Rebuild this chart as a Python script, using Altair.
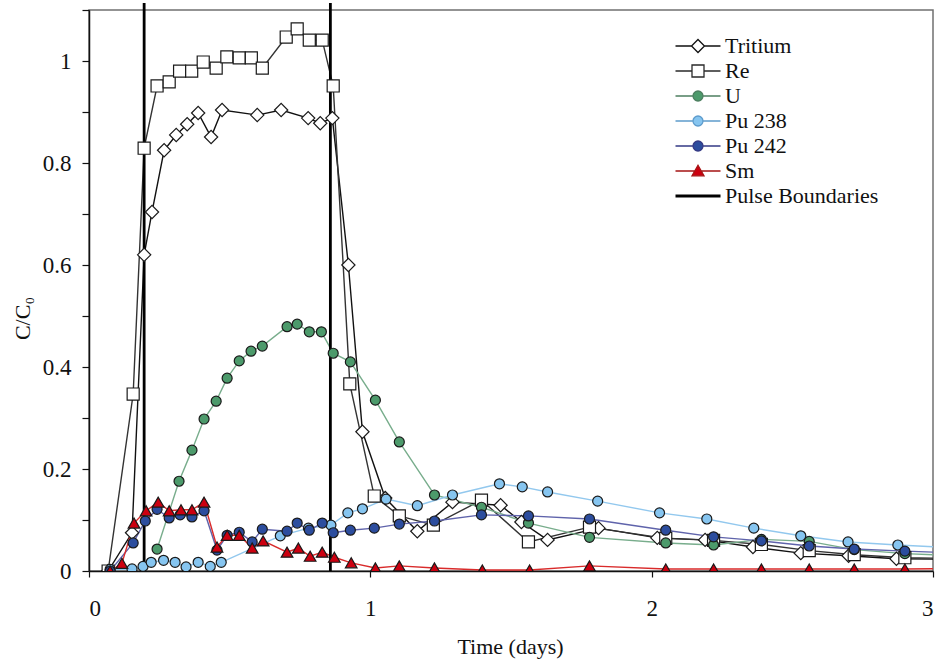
import altair as alt
import pandas as pd

# ---------------- data ----------------
SERIES = ["Tritium", "Re", "U", "Pu 238", "Pu 242", "Sm"]

tritium_t = [0.068, 0.153, 0.196, 0.224, 0.267, 0.31, 0.349, 0.388, 0.434, 0.473, 0.598, 0.683,
             0.779, 0.822, 0.865, 0.922, 0.972, 1.053, 1.167, 1.292, 1.463, 1.537, 1.63, 1.811,
             2.02, 2.19, 2.36, 2.53, 2.70, 2.87, 3.2]
tritium_v = [0.0, 0.075, 0.62, 0.704, 0.825, 0.855, 0.876, 0.898, 0.851, 0.904, 0.894, 0.904,
             0.888, 0.878, 0.888, 0.60, 0.273, 0.143, 0.078, 0.135, 0.129, 0.096, 0.061, 0.084,
             0.065, 0.061, 0.047, 0.035, 0.03, 0.024, 0.022]

re_t = [0.068, 0.157, 0.196, 0.242, 0.285, 0.322, 0.365, 0.406, 0.452, 0.49, 0.534, 0.577, 0.616,
        0.701, 0.74, 0.783, 0.829, 0.868, 0.927, 1.014, 1.103, 1.224, 1.395, 1.562, 1.779,
        2.05, 2.22, 2.39, 2.56, 2.72, 2.90, 3.2]
re_v = [0.0, 0.347, 0.829, 0.951, 0.959, 0.98, 0.98, 0.998, 0.986, 1.008, 1.006, 1.006, 0.986,
        1.047, 1.063, 1.041, 1.041, 0.951, 0.367, 0.147, 0.108, 0.09, 0.139, 0.057, 0.086,
        0.064, 0.06, 0.052, 0.04, 0.032, 0.026, 0.024]

u_t = [0.242, 0.32, 0.366, 0.409, 0.452, 0.491, 0.534, 0.576, 0.616, 0.704, 0.74, 0.783, 0.826,
       0.868, 0.929, 1.018, 1.103, 1.228, 1.395, 1.562, 1.779, 2.05, 2.22, 2.39, 2.56, 2.72,
       2.90, 3.2]
u_v = [0.043, 0.176, 0.237, 0.298, 0.333, 0.378, 0.412, 0.431, 0.441, 0.479, 0.484, 0.469, 0.469,
       0.427, 0.41, 0.335, 0.253, 0.149, 0.125, 0.094, 0.066, 0.055, 0.051, 0.062, 0.058, 0.042,
       0.034, 0.028]

pu238_t = [0.075, 0.153, 0.192, 0.221, 0.265, 0.306, 0.345, 0.388, 0.431, 0.47, 0.68, 0.78,
           0.86, 0.92, 0.972, 1.056, 1.167, 1.292, 1.459, 1.54, 1.63, 1.808, 2.028, 2.196,
           2.363, 2.53, 2.698, 2.875, 3.2]
pu238_v = [0.003, 0.004, 0.009, 0.017, 0.021, 0.017, 0.008, 0.017, 0.009, 0.017, 0.069, 0.084,
           0.09, 0.114, 0.122, 0.141, 0.128, 0.149, 0.171, 0.165, 0.155, 0.137, 0.114, 0.102,
           0.084, 0.069, 0.057, 0.051, 0.042]

pu242_t = [0.075, 0.157, 0.2, 0.242, 0.285, 0.324, 0.366, 0.409, 0.455, 0.491, 0.534, 0.58,
           0.616, 0.704, 0.74, 0.783, 0.829, 0.868, 0.929, 1.014, 1.103, 1.228, 1.395, 1.562,
           1.779, 2.05, 2.22, 2.39, 2.56, 2.72, 2.90, 3.2]
pu242_v = [0.0, 0.055, 0.098, 0.121, 0.104, 0.11, 0.106, 0.118, 0.041, 0.07, 0.076, 0.057,
           0.082, 0.078, 0.094, 0.08, 0.094, 0.075, 0.08, 0.084, 0.092, 0.098, 0.11, 0.108,
           0.102, 0.08, 0.067, 0.059, 0.049, 0.043, 0.039, 0.033]

sm_t = [0.075, 0.117, 0.16, 0.203, 0.246, 0.285, 0.327, 0.366, 0.409, 0.455, 0.491, 0.534, 0.58,
        0.619, 0.704, 0.744, 0.786, 0.829, 0.872, 0.932, 1.018, 1.103, 1.228, 1.398, 1.566,
        1.779, 2.05, 2.22, 2.39, 2.56, 2.72, 2.90, 3.2]
sm_v = [0.0, 0.015, 0.094, 0.118, 0.135, 0.118, 0.12, 0.12, 0.135, 0.047, 0.07, 0.07, 0.045,
        0.059, 0.037, 0.045, 0.029, 0.037, 0.027, 0.016, 0.006, 0.01, 0.006, 0.002, 0.002,
        0.01, 0.004, 0.004, 0.004, 0.004, 0.004, 0.004, 0.005]

PULSE_LABEL = "Pulse Boundaries"
pulse_t = [0.196, 0.858]

# axis ticks / labels
X_TICKS = [0, 1, 2, 3]
Y_TICKS = [0, 0.1, 0.2, 0.3, 0.4, 0.5, 0.6, 0.7, 0.8, 0.9, 1.0, 1.1]
Y_LABELED = ["0", "0.2", "0.4", "0.6", "0.8", "1"]

# ---------------- styling ----------------
LEGEND_ORDER = SERIES + [PULSE_LABEL]
LINE_COLORS = ["#111111", "#333333", "#78ad8c", "#92c8ee", "#5f63ab", "#d92b2b"]
MARK_FILLS = ["#ffffff", "#ffffff", "#4c9a6b", "#86c5f0", "#2c4d9e", "#cc0010"]
MARK_SHAPES = ["diamond", "square", "circle", "circle", "circle", "triangle-up"]
MARK_SIZES = [175, 145, 100, 100, 100, 135]
FONT = "Liberation Serif"

# legend symbols: line with marker (custom paths in unit coords)
LEG_PATHS = [
    "M-3.75,0H-1.08M1.08,0H3.75M0,-1.08L1.08,0L0,1.08L-1.08,0Z",
    "M-3.75,0H-1M1,0H3.75M-1,-1H1V1H-1Z",
    "M-3.75,0H-0.83M0.83,0H3.75M0.83,0A0.83,0.83 0 1,1 -0.83,0A0.83,0.83 0 1,1 0.83,0Z",
    "M-3.75,0H-0.83M0.83,0H3.75M0.83,0A0.83,0.83 0 1,1 -0.83,0A0.83,0.83 0 1,1 0.83,0Z",
    "M-3.75,0H-0.83M0.83,0H3.75M0.83,0A0.83,0.83 0 1,1 -0.83,0A0.83,0.83 0 1,1 0.83,0Z",
    "M-3.75,0H-0.6M0.6,0H3.75M0,-0.95L1,0.8L-1,0.8Z",
    "M-3.75,0H3.75",
]
LEG_FILLS = MARK_FILLS + ["transparent"]
LEG_STROKES = ["#111111", "#2a2a2a", "#4d7f60", "#5e9ccc", "#353a85", "#a51515", "#000000"]
LEG_WIDTHS = [1.3, 1.3, 1.3, 1.3, 1.3, 1.3, 2.8]

rows = []
for name, ts, vs in [("Tritium", tritium_t, tritium_v), ("Re", re_t, re_v), ("U", u_t, u_v),
                     ("Pu 238", pu238_t, pu238_v), ("Pu 242", pu242_t, pu242_v), ("Sm", sm_t, sm_v)]:
    for t, v in zip(ts, vs):
        rows.append({"series": name, "t": t, "v": v})
df = pd.DataFrame(rows)
pulse_df = pd.DataFrame({"t": pulse_t})
legend_df = pd.DataFrame({"lg": LEGEND_ORDER, "t": [0.0] * 7, "v": [0.0] * 7})

W, H = 844, 561

y_label_expr = ("indexof(" + str(Y_LABELED) + ", format(datum.value, '~g')) >= 0 ? "
                "format(datum.value, '~g') : ''")

x_enc = alt.X("t:Q", scale=alt.Scale(domain=[0, 3], nice=False, zero=False),
              axis=alt.Axis(values=X_TICKS, format="d", title="Time (days)",
                            labelPadding=31, labelBaseline="middle", labelFontSize=23,
                            titleX=421, titleY=75, titleBaseline="middle", titleAlign="center"))
y_enc = alt.Y("v:Q", scale=alt.Scale(domain=[0, 1.1], nice=False),
              axis=alt.Axis(values=Y_TICKS, labelExpr=y_label_expr, title="C/C₀",
                            labelPadding=11, labelFontSize=23, tickSize=7,
                            titleAngle=-90, titleX=-67, titleY=308,
                            titleBaseline="middle", titleAlign="center"))

lines = alt.Chart(df).mark_line(clip=True, strokeWidth=1.4).encode(
    x=x_enc, y=y_enc,
    stroke=alt.Stroke("series:N", scale=alt.Scale(domain=SERIES, range=LINE_COLORS), legend=None),
)

rules = alt.Chart(pulse_df).mark_rule(color="#000000", strokeWidth=2.8).encode(
    x=alt.X("t:Q"), y=alt.value(-7), y2=alt.value(H))

points = alt.Chart(df).mark_point(filled=True, clip=True, stroke="#1a1a1a", strokeWidth=1.2,
                                  opacity=1).encode(
    x="t:Q", y="v:Q",
    shape=alt.Shape("series:N", scale=alt.Scale(domain=SERIES, range=MARK_SHAPES), legend=None),
    fill=alt.Fill("series:N", scale=alt.Scale(domain=SERIES, range=MARK_FILLS), legend=None),
    size=alt.Size("series:N", scale=alt.Scale(type="ordinal", domain=SERIES, range=MARK_SIZES),
                  legend=None),
)

leg = alt.Legend(title=None, orient="none", legendX=598, legendY=25, symbolSize=144,
                 labelFont=FONT, labelFontSize=22, labelColor="#111111", labelOffset=16,
                 rowPadding=3, padding=0, labelLimit=400, symbolOpacity=1)

legend_layer = alt.Chart(legend_df).transform_filter("false").mark_point(
    filled=True, opacity=1).encode(
    x="t:Q", y="v:Q",
    shape=alt.Shape("lg:N", scale=alt.Scale(domain=LEGEND_ORDER, range=LEG_PATHS), legend=leg),
    fill=alt.Fill("lg:N", scale=alt.Scale(domain=LEGEND_ORDER, range=LEG_FILLS), legend=leg),
    stroke=alt.Stroke("lg:N", scale=alt.Scale(domain=LEGEND_ORDER, range=LEG_STROKES), legend=leg),
    strokeWidth=alt.StrokeWidth("lg:N", scale=alt.Scale(type="ordinal", domain=LEGEND_ORDER,
                                                        range=LEG_WIDTHS), legend=leg),
)

chart = alt.layer(lines, rules, points, legend_layer).resolve_scale(
    stroke="independent", fill="independent", shape="independent",
    strokeWidth="independent", size="independent",
).properties(
    width=W, height=H,
    autosize=alt.AutoSizeParams(type="none"),
    padding={"left": 89, "top": 10, "right": 9, "bottom": 90},
    background="white",
).configure(font=FONT).configure_view(stroke="#707070", strokeWidth=1.5).configure_axis(
    grid=False, domainColor="#111111", domainWidth=1.5, tickColor="#111111", tickSize=6,
    tickWidth=1.2, labelFont=FONT, labelColor="#111111", titleFont=FONT,
    titleFontSize=22, titleFontWeight="normal", titleColor="#111111",
).configure_legend(labelFont=FONT)

chart.save("out.html", embed_options={"renderer": "svg", "actions": False})
